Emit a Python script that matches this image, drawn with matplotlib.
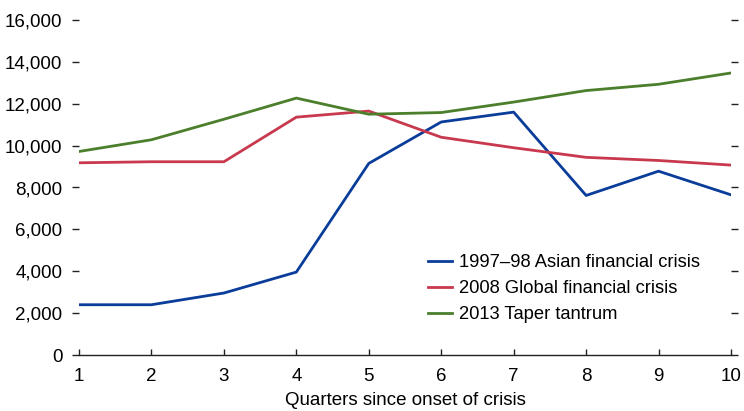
import numpy as np
import matplotlib
matplotlib.use("Agg")
import matplotlib.pyplot as plt

plt.rcParams['font.family'] = ['Liberation Sans Narrow', 'Liberation Sans', 'DejaVu Sans']

# ── Data ──────────────────────────────────────────────────────────────────────
quarters = [1, 2, 3, 4, 5, 6, 7, 8, 9, 10]
asian_1997 = [2400, 2400, 2960, 3960, 9150, 11130, 11600, 7620, 8780, 7650]
global_2008 = [9180, 9230, 9230, 11360, 11650, 10400, 9900, 9440, 9290, 9070]
taper_2013 = [9720, 10280, 11260, 12270, 11500, 11580, 12080, 12630, 12930, 13470]

labels = ["1997\u201398 Asian financial crisis",
          "2008 Global financial crisis",
          "2013 Taper tantrum"]
colors = ["#0A3D99", "#C8394E", "#4B7F2B"]

yticks = np.arange(0, 16001, 2000)

# ── Plot ──────────────────────────────────────────────────────────────────────
fig = plt.figure(figsize=(7.44, 4.11), dpi=100)
ax = fig.add_axes([79/744, 1 - 355/411, (731 - 79)/744, (355 - 20)/411])

for series, color, label in zip([asian_1997, global_2008, taper_2013], colors, labels):
    ax.plot(quarters, series, color=color, linewidth=2.0, label=label)

ax.set_xlim(1, 10)
ax.set_ylim(0, 16000)
ax.set_xticks(quarters)
ax.set_yticks(yticks)
ax.set_yticklabels([f"{v:,}" for v in yticks])

for side in ["top", "left", "right"]:
    ax.spines[side].set_visible(False)
ax.spines["bottom"].set_linewidth(1.0)
ax.spines["bottom"].set_color("#222222")

ax.tick_params(axis="y", which="both", left=True, right=True, direction="out",
               length=5, width=1.0, color="#222222", labelsize=13.5, pad=7)
ax.tick_params(axis="x", direction="in", length=4.5, width=1.0, color="#222222",
               labelsize=13.5, pad=9.5)

ax.set_xlabel("Quarters since onset of crisis", fontsize=13.5, labelpad=5)

ax.legend(loc="upper left", bbox_to_anchor=(428/744, 1 - 254/411),
          bbox_transform=fig.transFigure, frameon=False, borderpad=0,
          borderaxespad=0, fontsize=13.2, handlelength=1.3,
          handletextpad=0.4, labelspacing=0.5)

fig.savefig("out.png", dpi=100)
